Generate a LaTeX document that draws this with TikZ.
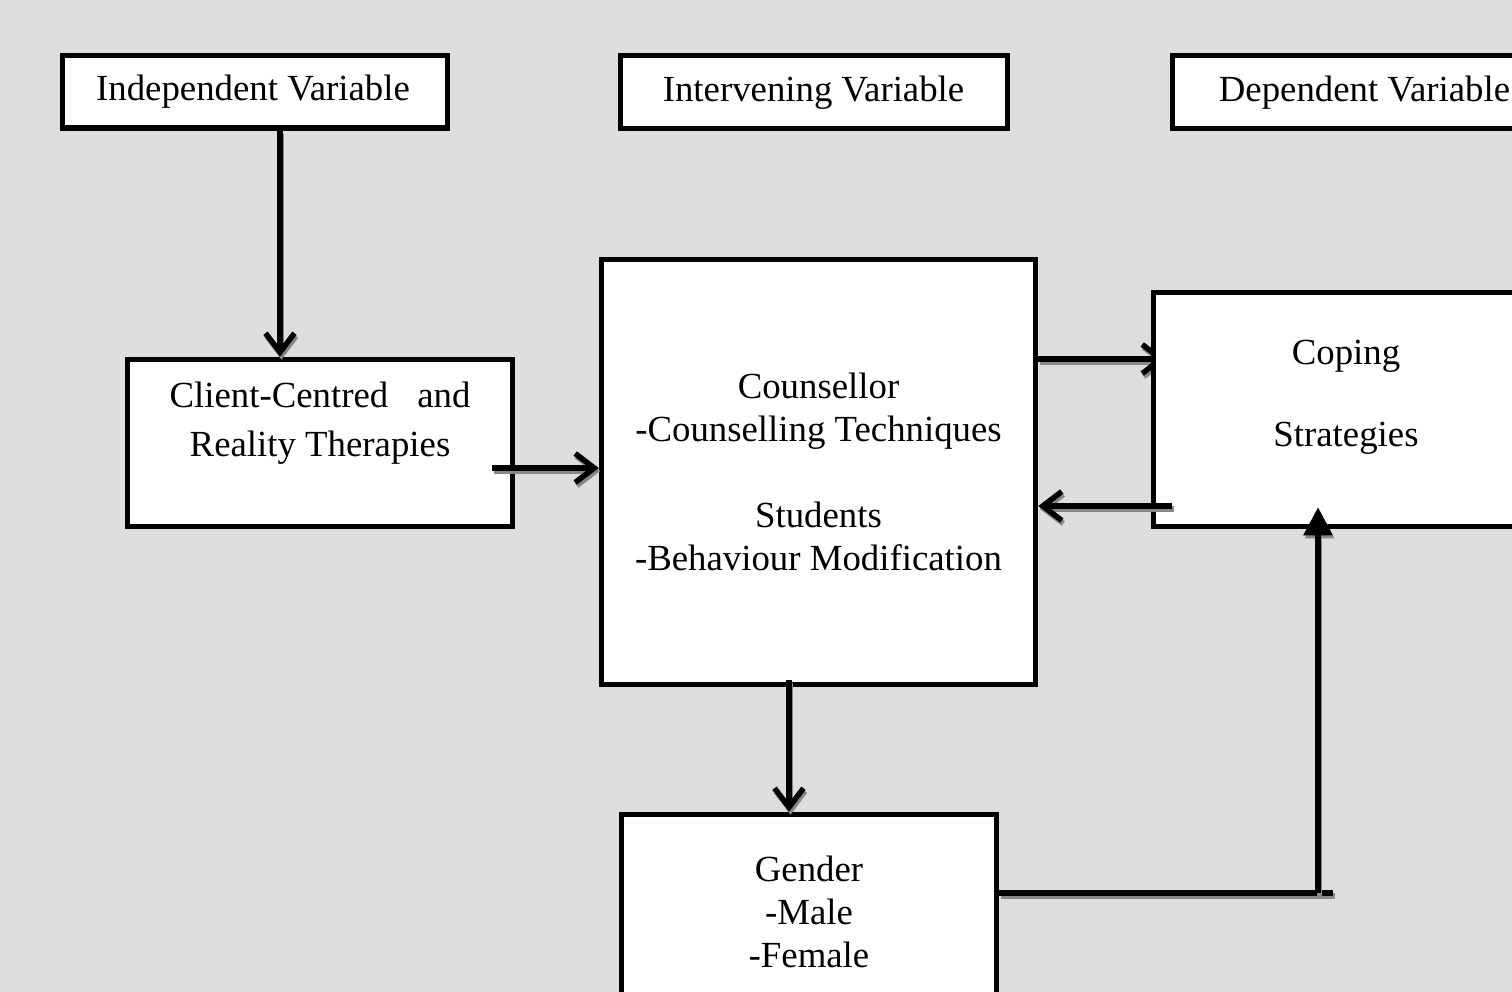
\documentclass[tikz,border=0pt]{standalone}
\usepackage{fontspec}
\setmainfont{Liberation Serif}
\usetikzlibrary{arrows.meta,calc,backgrounds}
\definecolor{bgc}{RGB}{221,221,221}
\definecolor{shd}{RGB}{135,135,135}
\begin{document}
\begin{tikzpicture}[x=1pt,y=-1pt,
  box/.style={draw=black,line width=5.5pt,fill=white,inner sep=0pt,rectangle},
  lbl/.style={font=\fontsize{36.8}{43}\selectfont,inner sep=0pt,anchor=base},
  conn/.style={line width=5.5pt,preaction={draw=shd,line width=5.5pt,transform canvas={shift={(1.5pt,-3pt)}}}},
  barb/.style={-{Straight Barb[length=19pt,width=29pt]}},
  tri/.style={-{Triangle[length=28pt,width=28pt]}},
]
\useasboundingbox (0,0) rectangle (1512,992);
\clip (0,0) rectangle (1512,992);

% boxes
\node[box,minimum width=385pt,minimum height=72.5pt] (iv) at (255,91.75) {};
\node[box,minimum width=387pt,minimum height=73pt] (inter) at (814,92) {};
\node[box,minimum width=384.5pt,minimum height=73pt] (dep) at (1364.75,92) {};
\node[box,minimum width=385pt,minimum height=167pt] (client) at (320,443) {};
\node[box,minimum width=434pt,minimum height=425pt] (couns) at (818.5,472) {};
\node[box,minimum width=386.5pt,minimum height=234pt] (coping) at (1346.75,409.5) {};
\node[box,minimum width=375pt,minimum height=195.5pt] (gender) at (809,912.25) {};

% texts
\node[lbl] (tiv) at (253,101) {Independent Variable};
\node[lbl] (tint) at (813.5,101.5) {Intervening Variable};
\node[lbl] (tdep) at (1364.5,101.5) {Dependent Variable};
\node[lbl] (tc1) at (320,407) {Client-Centred\hspace{29pt}and};
\node[lbl] (tc2) at (320,456) {Reality Therapies};
\node[lbl] (tk1) at (818.5,398) {Counsellor};
\node[lbl] (tk2) at (818.5,441.5) {-Counselling Techniques};
\node[lbl] (tk3) at (818.5,527) {Students};
\node[lbl] (tk4) at (818.5,570) {-Behaviour Modification};
\node[lbl] (tp1) at (1346,364) {Coping};
\node[lbl] (tp2) at (1346,446) {Strategies};
\node[lbl] (tg1) at (809,881) {Gender};
\node[lbl] (tg2) at (809,924) {-Male};
\node[lbl] (tg3) at (809,967) {-Female};

% connectors
\coordinate (a1) at (280,0);
\coordinate (a2) at (492,468);
\coordinate (a3) at (0,359);
\coordinate (a4) at (1172,506);
\coordinate (a5) at (789,680);
\coordinate (a6) at (1318,893);
\coordinate (a7) at (1333,893);

\begin{pgfonlayer}{background}
  \fill[bgc] (0,0) rectangle (1512,992);
  \draw[conn,barb] (couns.east |- a3) -- ($(coping.west |- a3)+(15,0)$);
\end{pgfonlayer}

\draw[conn,barb] (iv.south -| a1) -- (client.north -| a1);
\draw[conn,barb] (a2) -- (couns.west |- a2);
\draw[conn,barb] (a4) -- (couns.east |- a4);
\draw[conn,barb] (a5) -- (gender.north -| a5);
\draw[conn] (gender.east |- a6) -- (a7);
\draw[conn,tri] (a6) -- ($(coping.south -| a6)+(0,-22)$);
\end{tikzpicture}
\end{document}
